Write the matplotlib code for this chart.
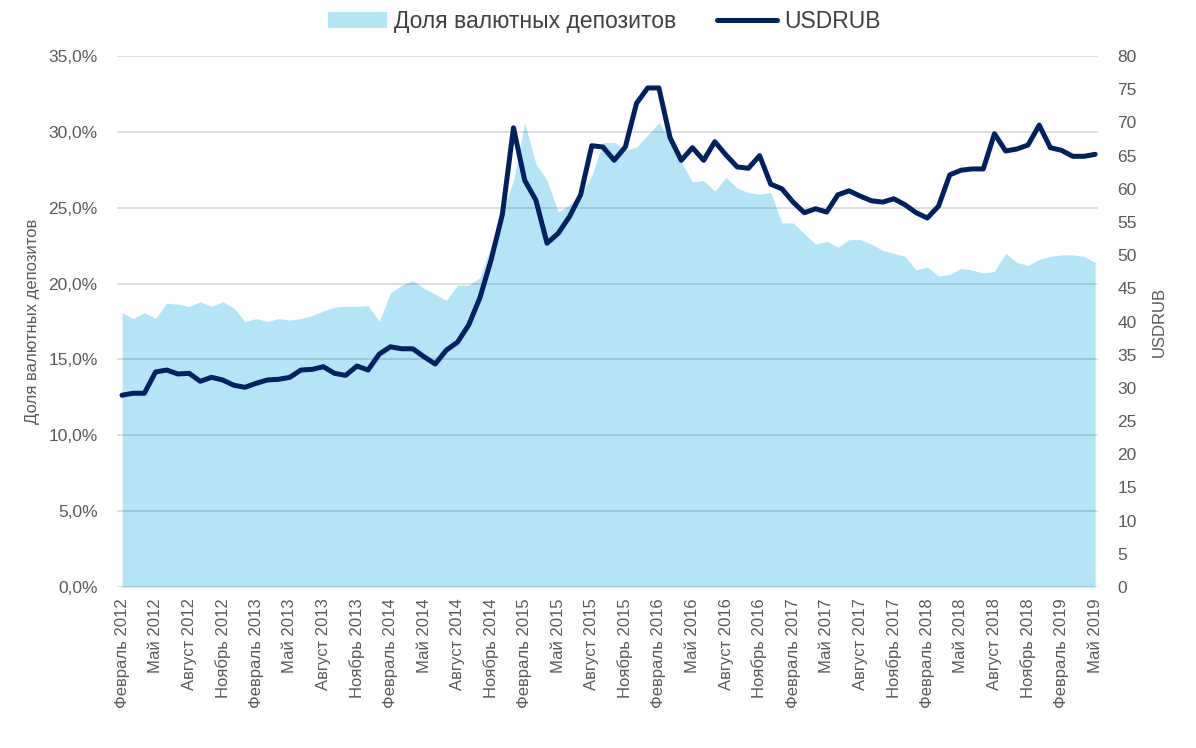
import numpy as np
import matplotlib.pyplot as plt
from matplotlib.ticker import FuncFormatter, MultipleLocator

plt.rcParams['font.family'] = ['Liberation Sans', 'DejaVu Sans']

# месяцы: февраль 2012 - май 2019, подписи каждые 3 месяца
months = ['Январь', 'Февраль', 'Март', 'Апрель', 'Май', 'Июнь', 'Июль',
          'Август', 'Сентябрь', 'Октябрь', 'Ноябрь', 'Декабрь']
periods = [(2012 + (m // 12), m % 12) for m in range(1, 1 + 88)]
labels = [f'{months[mm]} {yy}' for yy, mm in periods]

# доля валютных депозитов, %
share = [18.1, 17.7, 18.1, 17.7, 18.7, 18.65, 18.5, 18.8, 18.5, 18.8,
         18.4, 17.5, 17.7, 17.5, 17.7, 17.6, 17.7, 17.9, 18.2, 18.45,
         18.5, 18.5, 18.55, 17.5, 19.4, 19.9, 20.2, 19.7, 19.3, 18.9,
         19.9, 19.9, 20.4, 22.5, 24.8, 26.8, 30.6, 27.9, 26.8, 24.7,
         25.2, 25.9, 27.1, 29.3, 29.3, 28.8, 29.0, 29.8, 30.6, 29.5,
         28.0, 26.7, 26.8, 26.1, 27.0, 26.3, 26.0, 25.9, 26.0, 24.0,
         24.0, 23.3, 22.6, 22.8, 22.4, 22.9, 22.9, 22.6, 22.2, 22.0,
         21.8, 20.9, 21.1, 20.5, 20.6, 21.0, 20.9, 20.7, 20.8, 22.0,
         21.4, 21.2, 21.6, 21.8, 21.9, 21.9, 21.8, 21.4]

# курс USDRUB на конец месяца
usdrub = [28.9, 29.2, 29.2, 32.4, 32.7, 32.1, 32.2, 31.0, 31.6, 31.2,
          30.4, 30.1, 30.7, 31.2, 31.3, 31.6, 32.7, 32.8, 33.2, 32.2,
          31.9, 33.3, 32.7, 35.1, 36.2, 35.9, 35.9, 34.7, 33.6, 35.7,
          36.9, 39.5, 43.6, 49.3, 56.1, 69.2, 61.3, 58.3, 51.8, 53.3,
          55.8, 59.1, 66.5, 66.3, 64.3, 66.3, 72.9, 75.2, 75.2, 67.7,
          64.3, 66.2, 64.3, 67.1, 65.1, 63.3, 63.1, 65.0, 60.7, 60.0,
          58.0, 56.4, 57.0, 56.5, 59.1, 59.7, 58.9, 58.2, 58.0, 58.5,
          57.6, 56.4, 55.6, 57.4, 62.1, 62.8, 63.0, 63.0, 68.3, 65.7,
          66.0, 66.6, 69.6, 66.2, 65.8, 64.9, 64.9, 65.2]

x = np.arange(len(share))
share_frac = np.array(share) / 100

fig = plt.figure(figsize=(11.96, 7.48), dpi=100)
ax = fig.add_axes([0.0978, 0.2152, 0.8202, 0.7098])
ax2 = ax.twinx()

fill = ax.fill_between(x, 0, share_frac, color='#b3e5f7', lw=0, zorder=1,
                       label='Доля валютных депозитов')
line, = ax2.plot(x, usdrub, color='#002060', lw=3.6, solid_joinstyle='round',
                 solid_capstyle='round', label='USDRUB')

ax.set_xlim(-0.45, 87.25)
ax.set_ylim(0, 0.35)
ax2.set_ylim(0, 80)
ax.yaxis.set_major_locator(MultipleLocator(0.05))
ax2.yaxis.set_major_locator(MultipleLocator(5))
ax.yaxis.set_major_formatter(FuncFormatter(lambda v, p: f'{v*100:.1f}%'.replace('.', ',')))

ax.grid(axis='y', color='black', alpha=0.15, lw=1.2, zorder=2)
ax.set_axisbelow(False)
for a in (ax, ax2):
    for s in a.spines.values():
        s.set_visible(False)
    a.tick_params(length=0, colors='#595959', labelsize=12)

ax.set_xticks(x[::3])
ax.set_xticklabels(labels[::3], rotation=90, fontsize=12, color='#595959')
ax.tick_params(axis='x', pad=8)
ax.tick_params(axis='y', pad=14)
ax2.tick_params(axis='y', pad=14)
for t in ax.get_yticklabels() + ax2.get_yticklabels():
    t.set_fontsize(12.5)

ax.set_ylabel('Доля валютных депозитов', fontsize=12, color='#595959', labelpad=6)
ax2.set_ylabel('USDRUB', fontsize=12, color='#595959', labelpad=11)

fig.legend(handles=[fill, line], loc='upper center', bbox_to_anchor=(0.505, 1.014),
           ncol=2, frameon=False, fontsize=16.5, handlelength=2.6,
           handletextpad=0.3, columnspacing=1.8, labelcolor='#404040')

fig.savefig('out.png', dpi=100)
